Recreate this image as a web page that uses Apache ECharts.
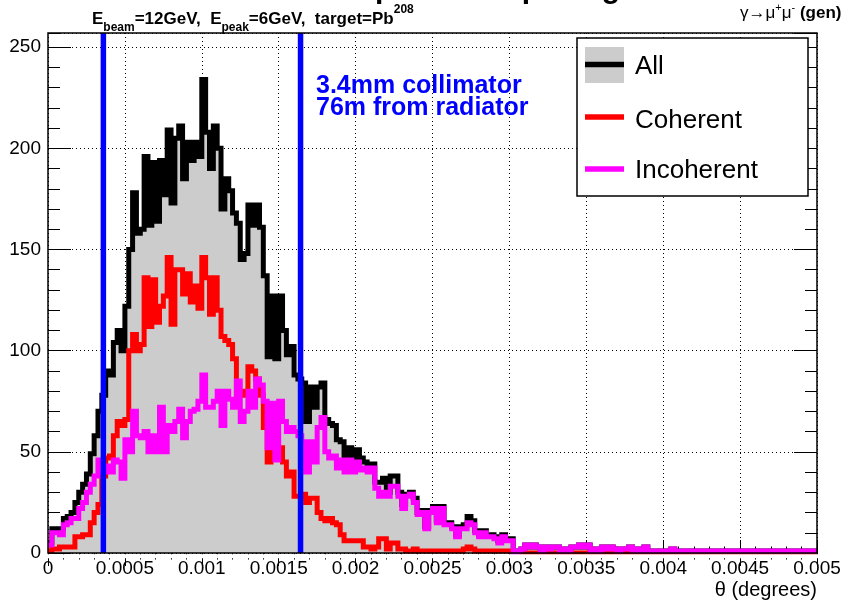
<!DOCTYPE html>
<html>
<head>
<meta charset="utf-8">
<script src="https://cdn.jsdelivr.net/npm/echarts@6/dist/echarts.min.js"></script>
<style>html,body{margin:0;padding:0;background:#fff}#c{width:844px;height:603px}</style>
</head>
<body>
<div id="c"></div>
<script>
// ---------------- data ----------------
const thetaMin = 0;
const thetaMax = 0.005;
const binWidth = 0.000025;          // 200 bins over 0 .. 0.005 degrees

const allCounts = [
  5,12,12,12,17,18,20,25,30,34,
  39,49,58,70,78,90,88,104,110,100,
  122,150,178,158,160,196,162,193,164,194,
  177,209,173,205,211,185,203,194,203,196,
  234,208,190,211,200,170,185,179,168,163,
  145,148,172,162,172,161,137,97,127,96,
  127,110,98,102,88,86,84,65,82,72,
  82,84,66,64,63,56,55,46,52,46,
  51,47,45,43,44,35,35,37,30,38,
  38,30,24,29,30,27,20,21,13,21,
  23,16,23,15,15,13,9,13,14,18,
  16,11,9,11,9,9,8,6,9,7,
  7,0,1,2,4,3,4,3,1,3,
  2,3,3,1,2,1,3,3,4,3,
  4,1,2,1,3,2,3,2,1,2,
  2,3,1,2,1,3,1,1,1,1,
  1,1,2,1,1,1,1,1,1,1,
  1,1,1,1,1,1,1,1,1,1,
  1,1,1,1,1,1,1,1,1,1,
  1,1,1,1,1,1,1,1,1,1
];
const coherentCounts = [
  1,2,2,3,3,3,3,8,8,9,
  9,15,20,24,38,47,48,58,65,63,
  66,100,108,100,103,136,112,135,114,122,
  127,146,113,140,140,128,138,124,132,121,
  146,136,118,136,120,107,105,103,96,78,
  80,78,92,90,86,78,62,45,53,50,
  52,45,38,40,28,28,29,25,27,27,
  20,17,16,17,15,14,9,6,6,6,
  6,6,3,3,2,3,7,7,2,5,
  5,2,2,1,1,2,1,1,1,1,
  1,1,1,1,1,1,1,1,2,3,
  2,1,1,1,1,1,1,1,1,1,
  1,0,0,0,0,0,0,0,0,0,
  0,0,0,0,0,0,0,0,0,0,
  0,0,0,0,0,0,0,0,0,0,
  0,0,0,0,0,0,0,0,0,0,
  0,0,0,0,0,0,0,0,0,0,
  0,0,0,0,0,0,0,0,0,0,
  0,0,0,0,0,0,0,0,0,0,
  0,0,0,0,0,0,0,0,0,0
];
const incoherentCounts = [
  4,10,10,9,14,15,17,17,22,25,
  30,34,38,46,40,43,40,46,45,37,
  56,50,70,58,57,60,50,58,50,72,
  50,63,60,65,71,57,65,70,71,75,
  88,72,72,75,80,63,80,76,72,85,
  65,70,80,72,86,83,75,52,74,46,
  75,65,60,62,60,58,55,40,55,45,
  62,67,50,47,48,42,46,40,46,40,
  45,41,42,40,42,32,28,30,28,33,
  33,28,22,28,29,25,19,20,12,20,
  22,15,22,14,14,12,8,12,12,15,
  14,10,8,10,8,8,7,5,8,6,
  6,0,1,2,4,3,4,3,1,3,
  2,3,3,1,2,1,3,3,4,3,
  4,1,2,1,3,2,3,2,1,2,
  2,3,1,2,1,3,1,1,1,1,
  1,1,2,1,1,1,1,1,1,1,
  1,1,1,1,1,1,1,1,1,1,
  1,1,1,1,1,1,1,1,1,1,
  1,1,1,1,1,1,1,1,1,1
];
const collimatorEdges = [0.00036, 0.001642];
const xTickLabels = ['0','0.0005','0.001','0.0015','0.002','0.0025','0.003','0.0035','0.004','0.0045','0.005'];
const yTickLabels = ['0','50','100','150','200','250'];
const legendNames = ['All','Coherent','Incoherent'];
const yMax = 257;

// ---------------- helpers ----------------
const FONT = "'Liberation Sans', Arial, Helvetica, sans-serif";
function stepData(counts) {
  const d = [];
  counts.forEach((v, i) => { d.push([i * binWidth, v]); d.push([(i + 1) * binWidth, v]); });
  return d;
}
function fmtX(v) {
  const k = Math.round(v / 0.0005);
  return Math.abs(v - k * 0.0005) < 1e-9 && xTickLabels[k] !== undefined ? xTickLabels[k] : '';
}
function fmtY(v) {
  const k = Math.round(v / 50);
  return Math.abs(v - k * 50) < 1e-6 && yTickLabels[k] !== undefined ? yTickLabels[k] : '';
}
const tickStyle = { color: '#000', width: 1 };
function yAx(position, interval, len, extra) {
  return Object.assign({
    type: 'value', position, min: 0, max: yMax, interval,
    axisLine: { show: false },
    axisTick: { show: true, inside: true, length: len, lineStyle: tickStyle },
    axisLabel: { show: false },
    splitLine: { show: false }
  }, extra || {});
}
function xAx(position, extra) {
  return Object.assign({
    type: 'value', position, min: thetaMin, max: thetaMax, interval: 0.0005,
    axisLine: { show: false },
    axisTick: { show: true, inside: true, length: 13, lineStyle: tickStyle },
    minorTick: { show: true, splitNumber: 5, length: 6.5, lineStyle: tickStyle },
    axisLabel: { show: false },
    splitLine: { show: false }
  }, extra || {});
}

const chart = echarts.init(document.getElementById('c'), null, { renderer: 'canvas' });

const series = [
  { name: legendNames[0], type: 'line', data: stepData(allCounts), symbol: 'none', showSymbol: false,
    lineStyle: { color: '#000000', width: 5, join: 'miter' },
    areaStyle: { color: '#cccccc', opacity: 1 }, z: 2, silent: true },
  { name: legendNames[1], type: 'line', data: stepData(coherentCounts), symbol: 'none', showSymbol: false,
    lineStyle: { color: '#ff0000', width: 5, join: 'miter' }, z: 3, silent: true },
  { name: legendNames[2], type: 'line', data: stepData(incoherentCounts), symbol: 'none', showSymbol: false,
    lineStyle: { color: '#ff00ff', width: 5, join: 'miter' }, z: 4, silent: true }
];
collimatorEdges.forEach(x => {
  series.push({ type: 'line', data: [[x, 0], [x, yMax]], symbol: 'none', showSymbol: false,
    lineStyle: { color: '#0000ff', width: 5.5 }, z: 5, silent: true });
});

const graphics = [
  { type: 'rect', z: 90, silent: true, shape: { x: 46, y: 554.2, width: 774, height: 4 }, style: { fill: '#ffffff' } },
  { type: 'rect', z: 100, silent: true, shape: { x: 48, y: 33, width: 769, height: 520 },
    style: { fill: 'none', stroke: '#000', lineWidth: 1.5 } },
  // cut-off main title
  { type: 'text', z: 100, x: 245, y: -10.5, silent: true,
    style: { text: 'Electron-positron opening', font: 'bold 30px ' + FONT, fill: '#000', align: 'left', verticalAlign: 'middle' } },
  // subtitle
  { type: 'text', z: 100, x: 92, y: 4, silent: true,
    style: { text: '{m|E}{s|beam}{m|=12GeV,  E}{s|peak}{m|=6GeV,  target=Pb}{u|208}',
      align: 'left', verticalAlign: 'top',
      rich: {
        m: { font: 'bold 17px ' + FONT, fill: '#000', lineHeight: 30, verticalAlign: 'middle' },
        s: { font: 'bold 12px ' + FONT, fill: '#000', lineHeight: 12, verticalAlign: 'bottom' },
        u: { font: 'bold 12px ' + FONT, fill: '#000', lineHeight: 12, verticalAlign: 'top' }
      } } },
  // top-right label
  { type: 'text', z: 100, x: 740, y: 2, silent: true,
    style: { text: '{n|γ→μ}{u|+}{n|μ}{u|-}{b| (gen)}', align: 'left', verticalAlign: 'top',
      rich: {
        n: { font: '17px ' + FONT, fill: '#000', lineHeight: 22, verticalAlign: 'middle' },
        u: { font: '11px ' + FONT, fill: '#000', lineHeight: 11, verticalAlign: 'top' },
        b: { font: 'bold 17px ' + FONT, fill: '#000', lineHeight: 22, verticalAlign: 'middle' }
      } } },
  // collimator annotation
  { type: 'text', z: 100, x: 316, y: 86, silent: true,
    style: { text: '3.4mm collimator', font: 'bold 25px ' + FONT, fill: '#0000ff', align: 'left', verticalAlign: 'middle' } },
  { type: 'text', z: 100, x: 316, y: 108, silent: true,
    style: { text: '76m from radiator', font: 'bold 25px ' + FONT, fill: '#0000ff', align: 'left', verticalAlign: 'middle' } },
  // x axis title
  { type: 'text', z: 100, x: 817, y: 590, silent: true,
    style: { text: 'θ (degrees)', font: '20px ' + FONT, fill: '#000', align: 'right', verticalAlign: 'middle' } },
  // legend
  { type: 'rect', z: 100, silent: true, shape: { x: 577, y: 38, width: 231, height: 158 },
    style: { fill: '#ffffff', stroke: '#000', lineWidth: 1.5 } },
  { type: 'rect', z: 101, silent: true, shape: { x: 585, y: 47, width: 39, height: 36 }, style: { fill: '#cccccc' } },
  { type: 'line', z: 102, silent: true, shape: { x1: 585, y1: 64.5, x2: 624, y2: 64.5 }, style: { stroke: '#000000', lineWidth: 5.5 } },
  { type: 'line', z: 102, silent: true, shape: { x1: 585, y1: 117, x2: 624, y2: 117 }, style: { stroke: '#ff0000', lineWidth: 5.5 } },
  { type: 'line', z: 102, silent: true, shape: { x1: 585, y1: 169, x2: 624, y2: 169 }, style: { stroke: '#ff00ff', lineWidth: 5.5 } },
  { type: 'text', z: 102, x: 635, y: 67, silent: true,
    style: { text: legendNames[0], font: '26px ' + FONT, fill: '#000', align: 'left', verticalAlign: 'middle' } },
  { type: 'text', z: 102, x: 635, y: 120.5, silent: true,
    style: { text: legendNames[1], font: '26px ' + FONT, fill: '#000', align: 'left', verticalAlign: 'middle' } },
  { type: 'text', z: 102, x: 635, y: 171, silent: true,
    style: { text: legendNames[2], font: '26px ' + FONT, fill: '#000', align: 'left', verticalAlign: 'middle' } }
];

chart.setOption({
  animation: false,
  backgroundColor: '#ffffff',
  grid: { left: 48, top: 33, width: 769, height: 520, containLabel: false, outerBoundsMode: 'none', show: false },
  xAxis: [
    xAx('bottom', {
      axisLabel: { show: true, margin: 6, fontSize: 19, fontFamily: FONT, color: '#000', formatter: fmtX },
      splitLine: { show: true, lineStyle: { color: '#000', width: 1, type: [1, 3] } }
    }),
    xAx('top')
  ],
  yAxis: [
    yAx('left', 50, 23, {
      axisLabel: { show: true, margin: 7, fontSize: 19, fontFamily: FONT, color: '#000', formatter: fmtY, showMaxLabel: false },
      splitLine: { show: true, lineStyle: { color: '#000', width: 1, type: [1, 3] } }
    }),
    yAx('left', 10, 12),
    yAx('right', 50, 23),
    yAx('right', 10, 12)
  ],
  series: series,
  graphic: { elements: graphics }
});
</script>
</body>
</html>
